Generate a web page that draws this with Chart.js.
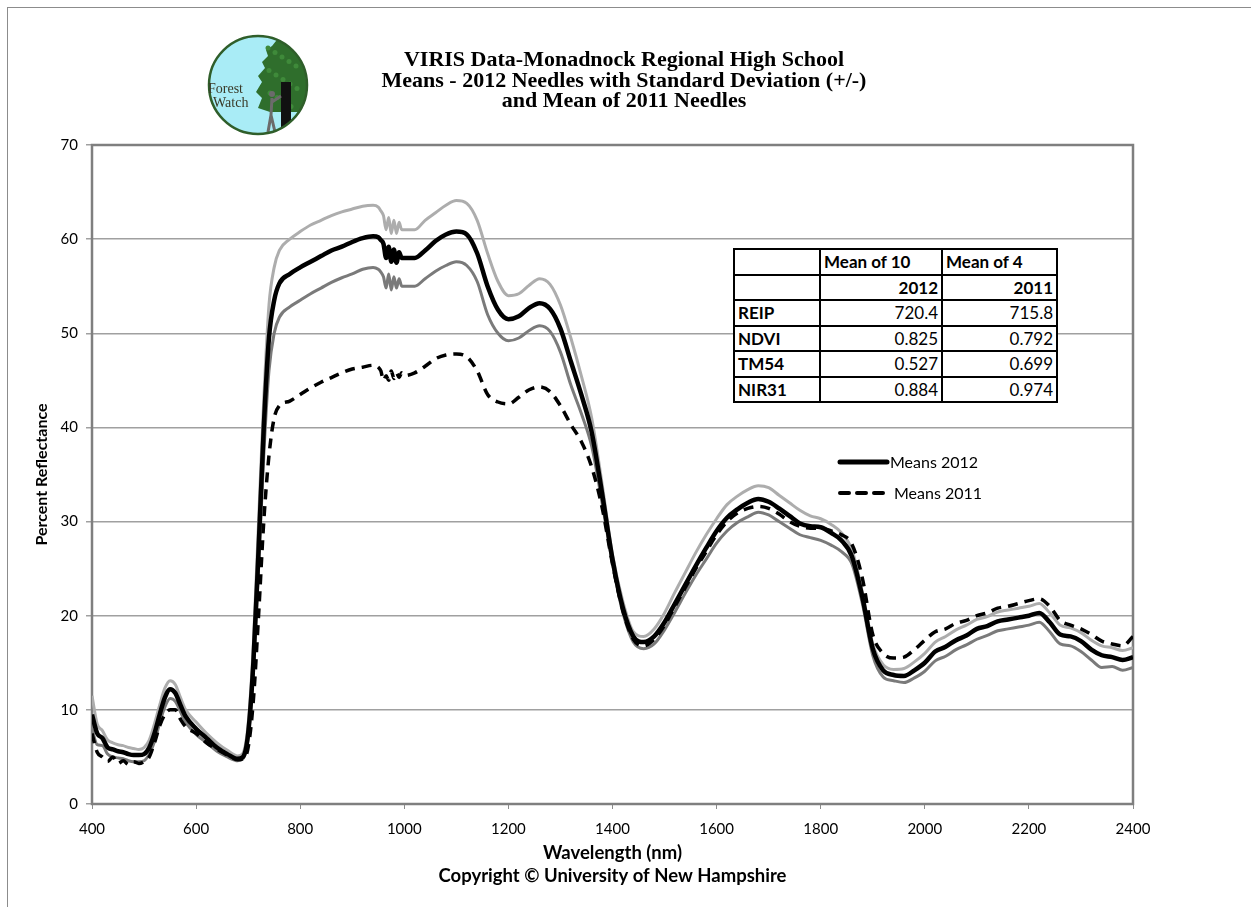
<!DOCTYPE html>
<html>
<head>
<meta charset="utf-8">
<script src="https://cdn.jsdelivr.net/npm/chart.js@4.4.0/dist/chart.umd.min.js"></script>
<style>
  html,body{margin:0;padding:0;background:#fff;}
  #wrap{position:relative;width:1251px;height:907px;overflow:hidden;}
  #c{position:absolute;left:0;top:0;}
  .title{position:absolute;left:274px;width:700px;top:49px;text-align:center;font-family:'Liberation Serif','Times New Roman',serif;font-weight:bold;font-size:22px;line-height:20.5px;color:#000;}
  table.stats{position:absolute;left:733px;top:248px;border-collapse:collapse;font-family:Lato,'Open Sans',sans-serif;font-size:17px;color:#000;background:#fff;}
  table.stats td{border:2px solid #000;height:23.5px;padding:0 3px;line-height:23.5px;white-space:nowrap;}
  table.stats td.r{text-align:right;}
  table.stats td.b{font-weight:bold;}
  .leg{position:absolute;font-family:Lato,'Open Sans',sans-serif;font-size:16px;color:#000;line-height:18px;}
  .logo{position:absolute;font-family:'Liberation Serif','Times New Roman',serif;font-size:14px;color:#3a3a28;line-height:14px;}
</style>
</head>
<body>
<div id="wrap">
<canvas id="c" width="1251" height="907"></canvas>
<div class="title">VIRIS Data-Monadnock Regional High School<br>Means - 2012 Needles with Standard Deviation (+/-)<br>and Mean of 2011 Needles</div>
<div class="logo" style="left:208px;top:82px;">Forest</div>
<div class="logo" style="left:213px;top:96px;">Watch</div>
<table class="stats" id="stats"></table>
<div class="leg" style="left:890px;top:453px;">Means 2012</div>
<div class="leg" style="left:894px;top:484px;">Means 2011</div>
</div>
<script>
// ---- data ----
const wavelengths = [
  400,410,420,430,440,450,460,470,480,490,500,510,520,530,540,550,560,570,580,
  600,620,640,660,680,690,700,710,720,730,740,750,760,
  780,800,820,840,860,880,900,920,940,
  950,955,960,965,970,975,980,985,990,995,1000,
  1020,1040,1060,1080,1100,1120,1140,1160,1180,1200,1220,1240,1260,1280,1300,1320,1340,1360,1380,1400,
  1420,1440,1460,1480,1500,1520,1540,1560,1580,1600,1620,1640,1660,1680,1700,1720,1740,1760,1780,1800,
  1820,1840,1860,1880,1900,1920,1940,1960,1980,2000,2020,2040,2060,2080,2100,2120,2140,2160,2180,2200,
  2220,2240,2260,2280,2300,2320,2340,2360,2380,2400
];
const mean2012 = [
  9.5,7.5,7.0,6.0,5.8,5.6,5.5,5.3,5.2,5.2,5.3,6.0,7.5,9.5,11.3,12.2,11.8,10.5,9.3,
  8.0,7.0,6.0,5.3,4.8,5.0,7.5,15,27,40,49.5,53.5,55.3,
  56.3,57.0,57.6,58.2,58.8,59.2,59.7,60.1,60.3,
  60.2,59.9,59.5,58.0,59.2,57.6,58.9,57.5,58.6,58.0,58.0,
  58.0,58.8,59.8,60.5,60.8,60.5,58.5,55.0,52.5,51.5,51.8,52.7,53.2,52.6,50.5,47.0,43.5,39.5,33.0,26.0,
  20.8,17.8,17.2,17.8,19.3,21.3,23.3,25.3,27.2,29.0,30.4,31.3,32.0,32.4,32.1,31.4,30.6,29.8,29.5,29.4,
  28.8,28.0,26.3,22.0,16.5,14.2,13.7,13.6,14.2,15.0,16.2,16.7,17.4,17.9,18.6,18.9,19.4,19.6,19.8,20.0,
  20.3,19.3,18.0,17.8,17.3,16.4,15.8,15.6,15.3,15.6
];
const plusSD2012 = [
  11.5,8.5,7.8,6.8,6.5,6.3,6.2,6.0,5.9,5.8,6.0,6.8,8.5,10.5,12.3,13.1,12.7,11.3,10.0,
  8.7,7.5,6.5,5.7,5.1,5.4,8.5,17,30,43,53,57,58.8,
  60.0,60.8,61.5,62.0,62.5,62.9,63.2,63.5,63.6,
  63.4,63.0,62.5,61.0,62.3,60.6,62.0,60.6,61.8,61.0,61.0,
  61.0,62.0,62.8,63.6,64.1,63.8,62.0,58.5,55.5,54.0,54.2,55.1,55.8,55.2,53.0,49.5,45.5,41.0,34.0,26.5,
  21.5,18.3,17.8,18.6,20.3,22.5,24.6,26.7,28.6,30.3,31.8,32.7,33.4,33.8,33.6,32.8,32.0,31.2,30.6,30.3,
  29.7,28.8,27.0,22.5,17.0,14.8,14.3,14.4,15.1,16.0,17.2,17.8,18.5,19.0,19.6,19.9,20.4,20.6,20.8,21.0,
  21.3,20.3,19.0,18.7,18.2,17.4,16.8,16.6,16.3,16.6
];
const minusSD2012 = [
  8.0,6.3,6.2,5.3,5.0,4.9,4.8,4.6,4.5,4.5,4.6,5.3,6.6,8.6,10.3,11.2,10.9,9.8,8.7,
  7.4,6.5,5.6,5.0,4.6,4.8,7.0,14,25,37,46,50,51.7,
  52.8,53.5,54.2,54.8,55.4,55.9,56.3,56.8,57.0,
  56.8,56.5,56.0,54.8,56.3,54.6,56.0,54.8,55.8,55.0,55.0,
  55.0,55.8,56.6,57.2,57.6,57.2,55.5,52.0,50.0,49.2,49.5,50.3,50.8,50.2,48.0,44.5,41.5,38.0,32.0,25.5,
  20.3,17.2,16.5,17.0,18.5,20.4,22.4,24.3,26.0,27.7,29.0,29.9,30.5,31.0,30.7,30.0,29.3,28.6,28.3,28.0,
  27.5,26.8,25.5,21.3,15.8,13.5,13.1,12.9,13.4,14.1,15.2,15.7,16.4,16.9,17.5,17.9,18.4,18.6,18.8,19.0,
  19.3,18.3,17.0,16.8,16.2,15.3,14.5,14.6,14.2,14.5
];
const mean2011 = [
  7.5,5.5,5.0,4.5,5.0,4.3,4.6,4.2,4.5,4.3,4.5,5.0,6.5,8.3,9.5,10.0,10.0,9.0,8.2,
  7.5,6.5,5.8,5.2,4.7,4.8,6.0,11,20,30,37,41,42.3,
  42.8,43.5,44.2,44.8,45.3,45.8,46.2,46.4,46.6,
  46.4,46.0,45.0,45.5,45.0,46.0,45.2,45.8,45.3,45.8,45.5,
  45.8,46.5,47.3,47.7,47.8,47.5,46.0,43.5,42.7,42.5,43.2,44.0,44.3,43.8,42.3,40.3,38.5,35.8,31.5,25.5,
  20.5,17.5,16.8,17.5,19.0,21.0,23.0,25.0,26.8,28.6,30.0,30.9,31.4,31.6,31.4,30.8,30.0,29.5,29.3,29.3,
  29.0,28.6,27.6,24.0,18.0,16.0,15.5,15.6,16.4,17.4,18.3,18.6,19.2,19.5,20.0,20.3,20.8,21.0,21.3,21.6,
  21.8,21.0,19.5,19.0,18.6,18.0,17.3,17.0,16.8,17.8
];
const xTicks = [400,600,800,1000,1200,1400,1600,1800,2000,2200,2400];
const yTicks = [0,10,20,30,40,50,60,70];
const tableHeader = [['', 'Mean of 10', 'Mean of 4'], ['', '2012', '2011']];
const indexNames = ['REIP','NDVI','TM54','NIR31'];
const index2012 = ['720.4','0.825','0.527','0.884'];
const index2011 = ['715.8','0.792','0.699','0.974'];

// ---- table ----
(function(){
  const t = document.getElementById('stats');
  const widths = [86,122,115];
  let html = '<colgroup>' + widths.map(w=>'<col style="width:'+w+'px">').join('') + '</colgroup>';
  html += '<tr><td></td><td class="b">'+tableHeader[0][1]+'</td><td class="b">'+tableHeader[0][2]+'</td></tr>';
  html += '<tr><td></td><td class="b r">'+tableHeader[1][1]+'</td><td class="b r">'+tableHeader[1][2]+'</td></tr>';
  for (let i=0;i<indexNames.length;i++){
    html += '<tr><td class="b">'+indexNames[i]+'</td><td class="r">'+index2012[i]+'</td><td class="r">'+index2011[i]+'</td></tr>';
  }
  t.innerHTML = html;
})();

const pts = arr => wavelengths.map((w,i)=>({x:w,y:arr[i]}));

const decor = {
  id:'decor',
  beforeDraw(chart){
    const ctx = chart.ctx;
    ctx.save();
    ctx.strokeStyle = '#8c8c8c'; ctx.lineWidth = 1;
    ctx.strokeRect(7.5,7.5,1300,1000);
    // logo
    const cx=258, cy=85, r=49;
    ctx.beginPath(); ctx.arc(cx,cy,r,0,Math.PI*2);
    ctx.fillStyle='#a9ecf6'; ctx.fill();
    ctx.save(); ctx.clip();
    ctx.fillStyle='#2f6e2c';
    ctx.beginPath();
    ctx.moveTo(280,36); ctx.lineTo(272,46); ctx.lineTo(266,50); ctx.lineTo(268,56); ctx.lineTo(262,62); ctx.lineTo(265,68);
    ctx.lineTo(258,76); ctx.lineTo(262,82); ctx.lineTo(256,92); ctx.lineTo(262,98); ctx.lineTo(258,108);
    ctx.lineTo(270,112); ctx.lineTo(300,112); ctx.lineTo(308,104); ctx.lineTo(306,80); ctx.lineTo(304,58); ctx.lineTo(296,42); ctx.lineTo(288,36); ctx.closePath();
    ctx.fill();
    ctx.fillStyle='#3f8a3a';
    for (let k=0;k<14;k++){ ctx.beginPath(); ctx.arc(268+(k*7)%34, 48+k*4.5, 2.5, 0, Math.PI*2); ctx.fill(); }
    ctx.fillStyle='#111';
    ctx.fillRect(281,82,10,52);
    ctx.strokeStyle='#6b6b6b'; ctx.lineWidth=3;
    ctx.beginPath(); ctx.moveTo(272,98); ctx.lineTo(271,115); ctx.lineTo(268,132); ctx.moveTo(271,115); ctx.lineTo(275,132);
    ctx.moveTo(272,102); ctx.lineTo(281,96); ctx.stroke();
    ctx.beginPath(); ctx.arc(272,94,3,0,Math.PI*2); ctx.fillStyle='#6b6b6b'; ctx.fill();
    ctx.restore();
    ctx.beginPath(); ctx.arc(cx,cy,r,0,Math.PI*2);
    ctx.strokeStyle='#2f5e2a'; ctx.lineWidth=2.5; ctx.stroke();
    ctx.restore();
  },
  beforeDatasetsDraw(chart){
    const {ctx, chartArea:a} = chart;
    ctx.save();
    ctx.strokeStyle='#7f7f7f'; ctx.lineWidth=2.5;
    ctx.strokeRect(a.left, a.top, a.right-a.left, a.bottom-a.top);
    ctx.restore();
  },
  afterDraw(chart){
    const ctx = chart.ctx;
    ctx.save();
    ctx.strokeStyle='#000';
    ctx.lineWidth=5; ctx.lineCap='round';
    ctx.beginPath(); ctx.moveTo(840,462); ctx.lineTo(887,462); ctx.stroke();
    ctx.lineWidth=4; ctx.lineCap='round'; ctx.setLineDash([9,8]);
    ctx.beginPath(); ctx.moveTo(840,493); ctx.lineTo(888,493); ctx.stroke();
    ctx.restore();
  }
};

const tickFont = {family:"Lato, 'Open Sans', sans-serif", size:15};
new Chart(document.getElementById('c'), {
  type:'line',
  data:{datasets:[
    {label:'Means 2011', data:pts(mean2011), borderColor:'#000', borderWidth:3.5, borderDash:[10,7], pointRadius:0, cubicInterpolationMode:'monotone'},
    {label:'Means 2012', data:pts(mean2012), borderColor:'#000', borderWidth:4.5, pointRadius:0, cubicInterpolationMode:'monotone'},
    {label:'-SD', data:pts(minusSD2012), borderColor:'#7a7a7a', borderWidth:3, pointRadius:0, cubicInterpolationMode:'monotone'},
    {label:'+SD', data:pts(plusSD2012), borderColor:'#adadad', borderWidth:3, pointRadius:0, cubicInterpolationMode:'monotone'}
  ]},
  options:{
    responsive:false, animation:false, devicePixelRatio:1,
    layout:{padding:{left:0,top:145,right:118,bottom:0}},
    plugins:{legend:{display:false}, tooltip:{enabled:false}, title:{display:false}},
    scales:{
      x:{type:'linear', min:400, max:2400,
        afterFit(s){ s.height = 103; },
        afterBuildTicks(s){ s.ticks = xTicks.map(v=>({value:v})); },
        ticks:{font:tickFont, color:'#000', padding:11, maxRotation:0, callback:v=>String(v)},
        grid:{drawOnChartArea:false, drawTicks:true, tickLength:5, color:'#8c8c8c', lineWidth:1},
        border:{display:false},
        title:{display:true, text:['Wavelength (nm)','Copyright © University of New Hampshire'], font:{family:"Lato, 'Open Sans', sans-serif", size:18.5, weight:'bold', lineHeight:1.243}, color:'#000', padding:{top:0,bottom:19.5}}
      },
      y:{min:0, max:70,
        afterFit(s){ s.width = 92; },
        afterBuildTicks(s){ s.ticks = yTicks.map(v=>({value:v})); },
        ticks:{font:tickFont, color:'#000', padding:8, callback:v=>String(v)},
        grid:{color:'#a0a0a0', lineWidth:1.5, tickLength:6, drawTicks:true},
        border:{display:false},
        title:{display:true, text:'Percent Reflectance', font:{family:"Lato, 'Open Sans', sans-serif", size:16, weight:'bold'}, color:'#000', padding:{top:32,bottom:0}}
      }
    }
  },
  plugins:[decor]
});
</script>
</body>
</html>
